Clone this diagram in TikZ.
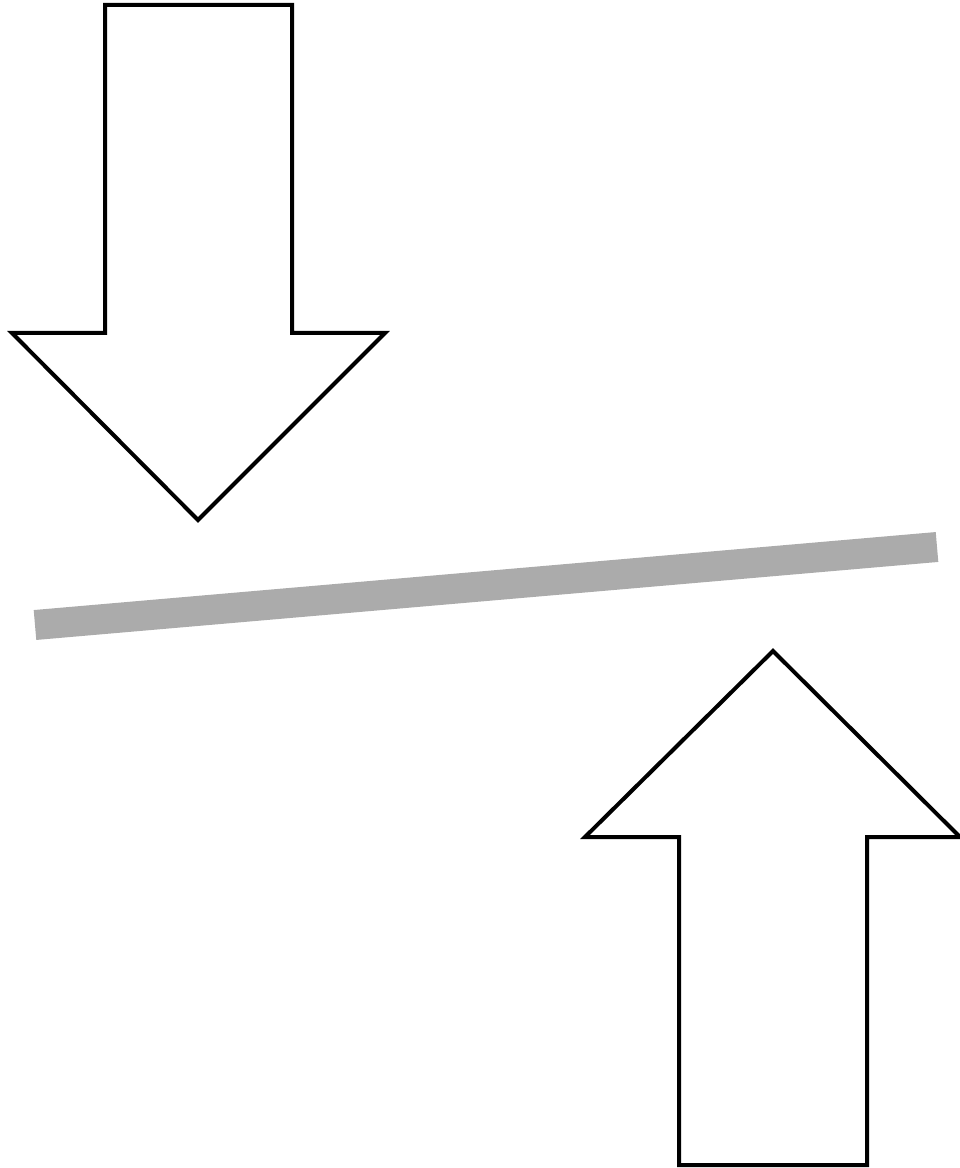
\documentclass[tikz,border=0pt]{standalone}
\usepackage{tikz}

\begin{document}
\begin{tikzpicture}[
  x=0.02cm, y=-0.02cm,
  blockarrow/.style={draw=black, fill=white, line width=0.08cm, line join=miter},
  barline/.style={draw=black!33, line width=0.6cm}
]
\useasboundingbox (0,0) rectangle (959,1168);

%% -- tilted bar --------------------------------------------------
\draw[barline] (35,625) -- (937,547);

%% -- arrow pointing down ----------------------------------------
\draw[blockarrow] (105,5) -- (292,5) -- (292,333) -- (385,333)
  -- (198,520) -- (12,333) -- (105,333) -- cycle;

%% -- arrow pointing up ------------------------------------------
\draw[blockarrow] (679,1165) -- (867,1165) -- (867,837) -- (960,837)
  -- (773,651) -- (585,837) -- (679,837) -- cycle;

\end{tikzpicture}
\end{document}
